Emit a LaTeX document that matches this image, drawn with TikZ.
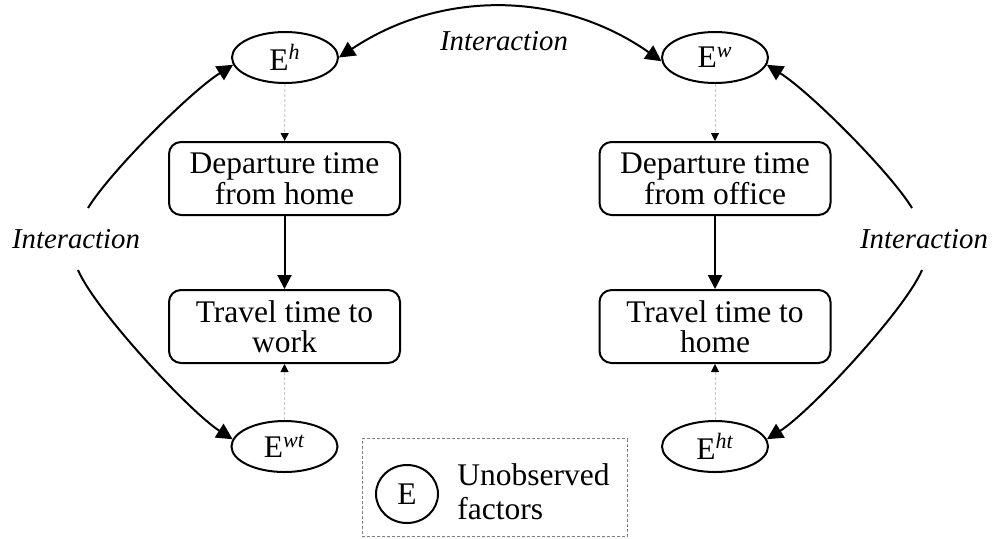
\documentclass[tikz,border=0pt]{standalone}
\usepackage{fontspec}
\setmainfont{Liberation Serif}
\usetikzlibrary{arrows.meta,shapes.geometric}

\begin{document}
\begin{tikzpicture}[x=0.5pt,y=-0.5pt,
  every node/.style={font=\fontsize{15.75}{15.25}\selectfont},
  procbox/.style={draw,line width=1pt,rounded corners=6pt,minimum width=115.5pt,
    minimum height=36.5pt,align=center,inner sep=0pt},
  factor/.style={draw,ellipse,line width=1pt,minimum width=53pt,minimum height=25.5pt,inner sep=0pt},
  mainarrow/.style={line width=1pt,-{Triangle[length=7pt,width=7pt]}},
  interarrow/.style={line width=1pt},
  interhead/.style={-{Triangle[length=8pt,width=8pt]}},
  hidden/.style={draw=gray!45,line width=0.5pt,dash pattern=on 1.5pt off 1pt,
    -{Triangle[length=4pt,width=4pt,color=black]}},
  interlabel/.style={font=\fontsize{14.4}{16}\selectfont\itshape,inner sep=0pt},
  legendframe/.style={draw=gray,line width=0.5pt,dash pattern=on 1.5pt off 1pt,
    minimum width=132.5pt,minimum height=49pt,inner sep=0pt}
]
\useasboundingbox (0,0) rectangle (994,538);

% unobserved factors
\node[factor] (Eh)  at (285,57.5)  {E\textsuperscript{\itshape h}};
\node[factor] (Ew)  at (715,57.5)  {E\textsuperscript{\itshape w}};
\node[factor] (Ewt) at (284.5,446.5) {E\textsuperscript{\itshape wt}};
\node[factor] (Eht) at (715,446.5) {E\textsuperscript{\itshape ht}};

% observed choices
\node[procbox] (dh) at (284.5,178.5) {Departure time\\from home};
\node[procbox] (tw) at (284.5,326.5) {Travel time to\\work};
\node[procbox] (do) at (715,178.5)   {Departure time\\from office};
\node[procbox] (th) at (715,326.5)   {Travel time to\\home};

\draw[mainarrow] (dh) -- (tw);
\draw[mainarrow] (do) -- (th);

\draw[hidden] (Eh) -- (dh);
\draw[hidden] (Ew) -- (do);
\draw[hidden] (Ewt) -- (tw);
\draw[hidden] (Eht) -- (th);

% interaction labels
\node[interlabel] (itop)   at (504,41)  {Interaction};
\node[interlabel] (ileft)  at (76,239)  {Interaction};
\node[interlabel] (iright) at (924,239) {Interaction};

\coordinate (lu) at (88,208);
\coordinate (ll) at (78,270);
\coordinate (ru) at (912,208);
\coordinate (rl) at (922,270);

\draw[interarrow,interhead] (lu) .. controls (110,172) and (190,92) .. (Eh.188);
\draw[interarrow,interhead] (ll) .. controls (95,310) and (190,412) .. (Ewt.172);
\draw[interarrow,interhead] (ru) .. controls (890,172) and (810,92) .. (Ew.-8);
\draw[interarrow,interhead] (rl) .. controls (905,310) and (810,412) .. (Eht.8);
\draw[interarrow,{Triangle[length=8pt,width=8pt]}-{Triangle[length=8pt,width=8pt]}]
  (Eh.east) .. controls (440,-10) and (560,-10) .. (Ew.184);

% legend
\node[legendframe] (legend) at (494.5,487.5) {};
\node[draw,ellipse,line width=1pt,minimum width=31pt,minimum height=29pt,inner sep=0pt]
  (legE) at (407,494) {E};
\node[anchor=west,align=left,inner sep=0pt,font=\fontsize{15.75}{17}\selectfont]
  (legtext) at (457,492) {Unobserved\\factors};
\end{tikzpicture}
\end{document}
